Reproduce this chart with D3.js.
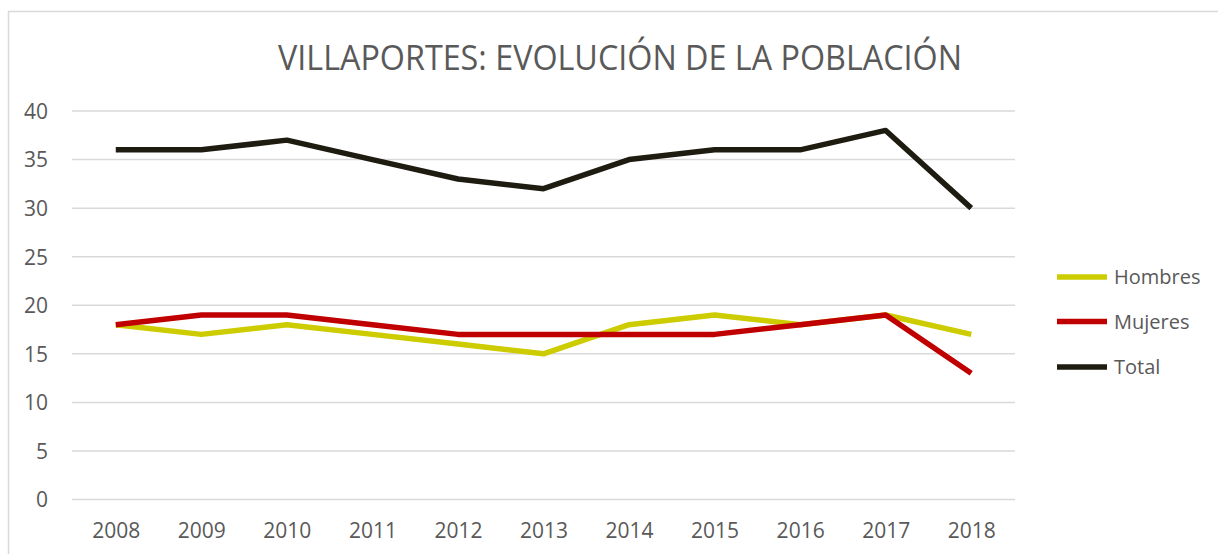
<!DOCTYPE html>
<html>
<head>
<meta charset="utf-8">
<script src="https://cdn.jsdelivr.net/npm/d3@7"></script>
<style>
  html, body { margin: 0; padding: 0; background: #fff; }
  svg { display: block; }
</style>
</head>
<body>
<svg id="chart" width="1218" height="554"></svg>
<script>
// Población de Villaportes por año
const years = ["2008","2009","2010","2011","2012","2013","2014","2015","2016","2017","2018"];
const hombres = [18, 17, 18, 17, 16, 15, 18, 19, 18, 19, 17];
const mujeres = [18, 19, 19, 18, 17, 17, 17, 17, 18, 19, 13];
const total   = [36, 36, 37, 35, 33, 32, 35, 36, 36, 38, 30];
const yTicks  = [0, 5, 10, 15, 20, 25, 30, 35, 40];

const series = [
  { name: "Hombres", values: hombres, color: "#cccc00" },
  { name: "Mujeres", values: mujeres, color: "#c00000" },
  { name: "Total",   values: total,   color: "#1e1c10" }
];

const svg = d3.select("#chart");
const font = "'Open Sans', 'Liberation Sans', sans-serif";
const textColor = "#595959";

// chart area frame
svg.append("rect")
  .attr("x", 8.5).attr("y", 11.5)
  .attr("width", 1230).attr("height", 560)
  .attr("fill", "none").attr("stroke", "#d9d9d9").attr("stroke-width", 1.5);

const plot = { left: 73, right: 1014, top: 111, bottom: 499.5 };

const x = d3.scalePoint().domain(years).range([plot.left, plot.right]).padding(0.5);
const y = d3.scaleLinear().domain([0, 40]).range([plot.bottom, plot.top]);

// horizontal gridlines
svg.append("g")
  .selectAll("line")
  .data(yTicks)
  .join("line")
  .attr("x1", 72).attr("x2", 1015)
  .attr("y1", d => y(d)).attr("y2", d => y(d))
  .attr("stroke", "#d9d9d9").attr("stroke-width", 1.5);

// y axis
const yAxis = svg.append("g")
  .attr("transform", "translate(48,0)")
  .call(d3.axisLeft(y).tickValues(yTicks).tickSize(0).tickPadding(0));
yAxis.select(".domain").remove();
yAxis.selectAll("text")
  .attr("font-family", font).attr("font-size", 21)
  .attr("fill", textColor).attr("dy", "0.35em");

// x axis
const xAxis = svg.append("g")
  .attr("transform", "translate(0,500)")
  .call(d3.axisBottom(x).tickSize(0).tickPadding(0));
xAxis.select(".domain").remove();
xAxis.selectAll("text")
  .attr("font-family", font).attr("font-size", 21)
  .attr("fill", textColor).attr("y", 31).attr("dy", "0.35em");

// series lines
const line = d3.line()
  .x((d, i) => x(years[i]))
  .y(d => y(d));

svg.append("g")
  .selectAll("path")
  .data(series)
  .join("path")
  .attr("d", d => line(d.values))
  .attr("fill", "none")
  .attr("stroke", d => d.color)
  .attr("stroke-width", 5.5)
  .attr("stroke-linejoin", "round")
  .attr("stroke-linecap", "butt");

// title
svg.append("text")
  .attr("x", 620).attr("y", 70)
  .attr("text-anchor", "middle")
  .attr("font-family", font).attr("font-size", 35)
  .attr("fill", textColor)
  .attr("textLength", 684).attr("lengthAdjust", "spacingAndGlyphs")
  .text("VILLAPORTES: EVOLUCIÓN DE LA POBLACIÓN");

// legend
const legendY = [277, 321.5, 367];
const legend = svg.append("g")
  .selectAll("g")
  .data(series)
  .join("g")
  .attr("transform", (d, i) => `translate(1057,${legendY[i]})`);
legend.append("line")
  .attr("x1", 0).attr("x2", 50)
  .attr("stroke", d => d.color).attr("stroke-width", 5.5);
legend.append("text")
  .attr("x", 57).attr("dy", "0.35em")
  .attr("font-family", font).attr("font-size", 20)
  .attr("fill", textColor)
  .text(d => d.name);
</script>
</body>
</html>
